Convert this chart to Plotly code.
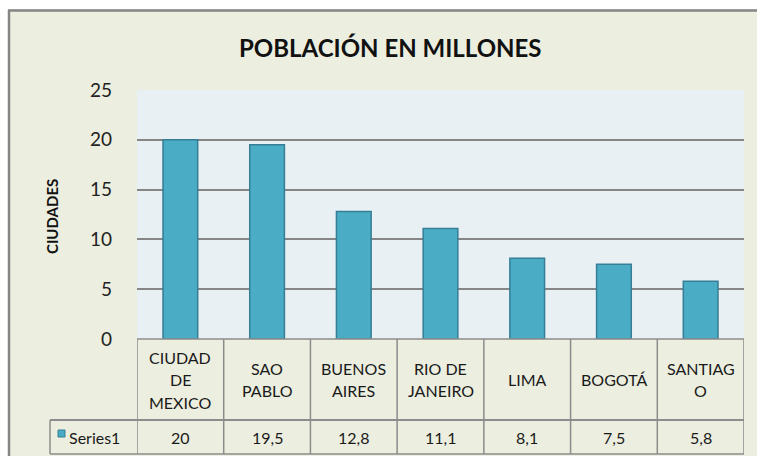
import plotly.graph_objects as go

title = "POBLACIÓN EN MILLONES"
y_title = "CIUDADES"
series_name = "Series1"
categories = ["CIUDAD\nDE\nMEXICO", "SAO\nPABLO", "BUENOS\nAIRES", "RIO DE\nJANEIRO",
              "LIMA", "BOGOTÁ", "SANTIAG\nO"]
values = [20, 19.5, 12.8, 11.1, 8.1, 7.5, 5.8]
y_ticks = [0, 5, 10, 15, 20, 25]

W, H = 757, 456
FONT = "Lato"
BEIGE = "#ECEEDF"
PLOTBG = "#E8F0F4"
BAR = "#4BACC6"
BAR_LINE = "#357E95"
GRID = "#868686"
TXT = "#1a1a1a"

def px(x):
    return x / W

def py(y):
    return 1 - y / H

PL, PR, PT, PB = 137, 744, 90, 339   # plot area in pixels
ROW1_B, ROW2_B = 420, 454            # table row bottoms
LEG_L = 50

n = len(categories)
xs = list(range(n))

fig = go.Figure()
fig.add_trace(go.Bar(
    x=xs, y=values, marker=dict(color=BAR, line=dict(color=BAR_LINE, width=1.5)),
    name=series_name, showlegend=False, hoverinfo="skip"))

shapes = []
# white margins and outer border
shapes.append(dict(type="rect", xref="paper", yref="paper", x0=0, x1=1, y0=py(9), y1=1,
                   fillcolor="white", line=dict(width=0), layer="above"))
shapes.append(dict(type="rect", xref="paper", yref="paper", x0=0, x1=px(8), y0=0, y1=1,
                   fillcolor="white", line=dict(width=0), layer="above"))
shapes.append(dict(type="line", xref="paper", yref="paper", x0=px(8), x1=1, y0=py(10.5), y1=py(10.5),
                   line=dict(color=GRID, width=2.5)))
shapes.append(dict(type="line", xref="paper", yref="paper", x0=px(9), x1=px(9), y0=py(10), y1=0,
                   line=dict(color=GRID, width=2.5)))

tl = dict(color="#8C8C8C", width=1.5)
# table horizontal lines
shapes.append(dict(type="line", xref="paper", yref="paper", x0=px(PL), x1=px(PR), y0=py(PB), y1=py(PB), line=tl))
shapes.append(dict(type="line", xref="paper", yref="paper", x0=px(LEG_L), x1=px(PR), y0=py(ROW1_B), y1=py(ROW1_B),
                   line=dict(color="#8C8C8C", width=2)))
shapes.append(dict(type="line", xref="paper", yref="paper", x0=px(LEG_L), x1=px(PR), y0=py(ROW2_B), y1=py(ROW2_B), line=tl))
# legend column left line
shapes.append(dict(type="line", xref="paper", yref="paper", x0=px(LEG_L), x1=px(LEG_L), y0=py(ROW1_B), y1=py(ROW2_B), line=tl))
# category boundaries (from the x axis)
for i in range(n + 1):
    shapes.append(dict(type="line", xref="x", yref="paper", x0=i - 0.5, x1=i - 0.5,
                       y0=py(PB), y1=py(ROW2_B), line=tl))
# legend key
shapes.append(dict(type="rect", xref="paper", yref="paper", x0=px(58), x1=px(65), y0=py(437), y1=py(430),
                   fillcolor=BAR, line=dict(color=BAR_LINE, width=1)))

annotations = []
annotations.append(dict(text=title, xref="paper", yref="paper", x=px(390), y=py(47), showarrow=False,
                        font=dict(family=FONT, size=24, color="#111", weight="bold"),
                        xanchor="center", yanchor="middle"))
annotations.append(dict(text=y_title, xref="paper", yref="paper", x=px(52), y=py(217), showarrow=False,
                        textangle=-90, font=dict(family=FONT, size=15, color="#111", weight="bold"),
                        xanchor="center", yanchor="middle"))
annotations.append(dict(text=series_name, xref="paper", yref="paper", x=px(67), y=py(437), showarrow=False,
                        font=dict(family=FONT, size=16, color=TXT), xanchor="left", yanchor="middle"))

LINE_H = 22.5
cell_mid = (PB + ROW1_B) / 2
for i, (cat, v) in enumerate(zip(categories, values)):
    lines = cat.split("\n")
    y0 = cell_mid - (len(lines) - 1) * LINE_H / 2
    for k, ln in enumerate(lines):
        annotations.append(dict(text=ln, xref="x", yref="paper", x=i, y=py(y0 + k * LINE_H),
                                showarrow=False, font=dict(family=FONT, size=16, color=TXT),
                                xanchor="center", yanchor="middle"))
    lab = f"{v:g}".replace(".", ",")
    annotations.append(dict(text=lab, xref="x", yref="paper", x=i, y=py((ROW1_B + ROW2_B) / 2),
                            showarrow=False, font=dict(family=FONT, size=16, color=TXT),
                            xanchor="center", yanchor="middle"))

fig.update_layout(
    width=W, height=H, margin=dict(l=0, r=0, t=0, b=0, pad=0, autoexpand=False),
    paper_bgcolor=BEIGE, plot_bgcolor=PLOTBG,
    bargap=0.6, showlegend=False,
    xaxis=dict(domain=[px(PL), px(PR)], range=[-0.5, n - 0.5], showticklabels=False,
               showgrid=False, zeroline=False, showline=False, fixedrange=True, automargin=False),
    yaxis=dict(domain=[py(PB), py(PT)], range=[0, 25], tickvals=y_ticks, automargin=False,
               showgrid=True, gridcolor=GRID, gridwidth=1.5, zeroline=False, showline=False,
               ticklabelstandoff=24, tickfont=dict(family=FONT, size=19, color="#222")),
    shapes=shapes, annotations=annotations,
)

fig.write_html("out.html", config={"displayModeBar": False},
               post_script="document.body.style.margin='0';document.body.style.overflow='hidden';")
